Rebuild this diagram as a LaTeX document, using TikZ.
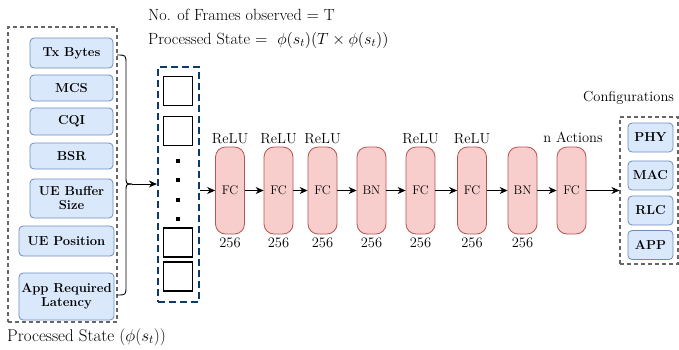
\RequirePackage{fix-cm}
\documentclass[tikz,border=0pt]{standalone}
\usetikzlibrary{arrows.meta}
\definecolor{bluefill}{HTML}{DAE8FC}
\definecolor{bluedraw}{HTML}{6C8EBF}
\definecolor{redfill}{HTML}{F8CECC}
\definecolor{reddraw}{HTML}{B85450}
\definecolor{navy}{HTML}{0B3A6B}
\definecolor{dgray}{HTML}{666666}
\begin{document}
\begin{tikzpicture}[x=1pt,y=-1pt,
  feat/.style={draw=bluedraw, fill=bluefill, rounded corners=4pt, line width=0.8pt,
    font=\fontsize{13}{14}\selectfont\bfseries, align=center, inner sep=0pt},
  layer/.style={draw=reddraw, fill=redfill, rounded corners=10pt, line width=0.8pt,
    minimum width=29pt, minimum height=87pt, inner sep=0pt, font=\fontsize{12.5}{14}\selectfont},
  grp/.style={draw=dgray, dash pattern=on 4pt off 3pt, line width=1.1pt, inner sep=0pt},
  stackbox/.style={draw=navy, dash pattern=on 7pt off 4pt, line width=2.2pt, inner sep=0pt},
  frame/.style={draw=black, line width=1.5pt, minimum width=29pt, minimum height=29pt, inner sep=0pt},
  dotmark/.style={fill=black, minimum size=3.5pt, inner sep=0pt},
  lbl/.style={font=\fontsize{14.5}{16}\selectfont, inner sep=0pt},
  ttl/.style={font=\fontsize{16.2}{18}\selectfont, inner sep=0pt, anchor=west},
  arr/.style={-{Stealth[length=8pt,width=7pt]}, line width=0.9pt},
  ]
\useasboundingbox (0,0) rectangle (679,349);

% left group
\node[grp, minimum width=109pt, minimum height=295pt] (lgrp) at (62.5,174.5) {};
\node[feat, minimum width=83pt, minimum height=30pt] (tx) at (71.5,53) {Tx Bytes};
\node[feat, minimum width=83pt, minimum height=26pt] (mcs) at (71.5,88) {MCS};
\node[feat, minimum width=83pt, minimum height=27pt] (cqi) at (71.5,121.5) {CQI};
\node[feat, minimum width=83pt, minimum height=26pt] (bsr) at (71.5,156) {BSR};
\node[feat, minimum width=83pt, minimum height=39pt] (ueb) at (71.5,198.5) {UE Buffer\\Size};
\node[feat, minimum width=95pt, minimum height=30pt] (uep) at (66.5,241) {UE Position};
\node[feat, minimum width=95pt, minimum height=47pt] (app) at (66.5,296.5) {App Required\\Latency};

% brace
\coordinate (btop) at (117,55);
\coordinate (bbot) at (117,295);
\coordinate (btip) at (132,184);
\draw[line width=0.9pt] (btop) .. controls (126,55) .. (126,64) -- (126,176) .. controls (126,184) .. (btip);
\draw[line width=0.9pt] (bbot) .. controls (126,295) .. (126,286) -- (126,192) .. controls (126,184) .. (btip);

% stack
\node[stackbox, minimum width=41pt, minimum height=235pt] (stack) at (178.5,184.5) {};
\node[frame] (f1) at (178,91) {};
\node[frame] (f2) at (178,131) {};
\node[frame] (f3) at (178,242.5) {};
\node[frame] (f4) at (178,276.5) {};
\node[dotmark] (d1) at (178,161) {};
\node[dotmark] (d2) at (178,180) {};
\node[dotmark] (d3) at (178,200) {};
\node[dotmark] (d4) at (178,219) {};
\draw[arr] (btip) -- (stack.west |- btip);

% layers
\node[layer] (l1) at (230,190.5) {FC};
\node[layer] (l2) at (278.5,190.5) {FC};
\node[layer] (l3) at (322.5,190.5) {FC};
\node[layer] (l4) at (371.5,190.5) {BN};
\node[layer] (l5) at (420.5,190.5) {FC};
\node[layer] (l6) at (472,190.5) {FC};
\node[layer] (l7) at (522.5,190.5) {BN};
\node[layer] (l8) at (571.5,190.5) {FC};

\coordinate (ytop) at (0,138.5);
\coordinate (ybot) at (0,243);
\foreach \n in {l1,l2,l3,l5,l6} \node[lbl] at (\n |- ytop) {ReLU};
\foreach \n in {l1,l2,l3,l4,l5,l6,l7} \node[lbl] at (\n |- ybot) {256};
\node[lbl] (nact) at (573,137.5) {n Actions};

\draw[arr] (stack.east |- l1.west) -- (l1.west);
\draw[arr] (l1) -- (l2);
\draw[arr] (l2) -- (l3);
\draw[arr] (l3) -- (l4);
\draw[arr] (l4) -- (l5);
\draw[arr] (l5) -- (l6);
\draw[arr] (l6) -- (l7);
\draw[arr] (l7) -- (l8);

% right group
\node[grp, minimum width=58pt, minimum height=147pt] (rgrp) at (649,190.5) {};
\node[feat, minimum width=45pt, minimum height=29pt] (phy) at (650.5,137.5) {PHY};
\node[feat, minimum width=45pt, minimum height=29pt] (mac) at (650.5,175.5) {MAC};
\node[feat, minimum width=45pt, minimum height=29pt] (rlc) at (650.5,210.5) {RLC};
\node[feat, minimum width=45pt, minimum height=29pt] (appc) at (650.5,245) {APP};
\draw[arr] (l8) -- (rgrp.west |- l8);
\node[lbl, anchor=west] (cfg) at (583,98) {Configurations};

% titles
\node[ttl] (t1) at (148,15) {No. of Frames observed $=$ T};
\node[ttl] (t2) at (148,40) {Processed State $=$ \ $\phi(s_t)(T\times\phi(s_t))$};
\node[ttl, font=\fontsize{17}{19}\selectfont] (t3) at (7,337) {Processed State ($\phi(s_t)$)};
\end{tikzpicture}
\end{document}
